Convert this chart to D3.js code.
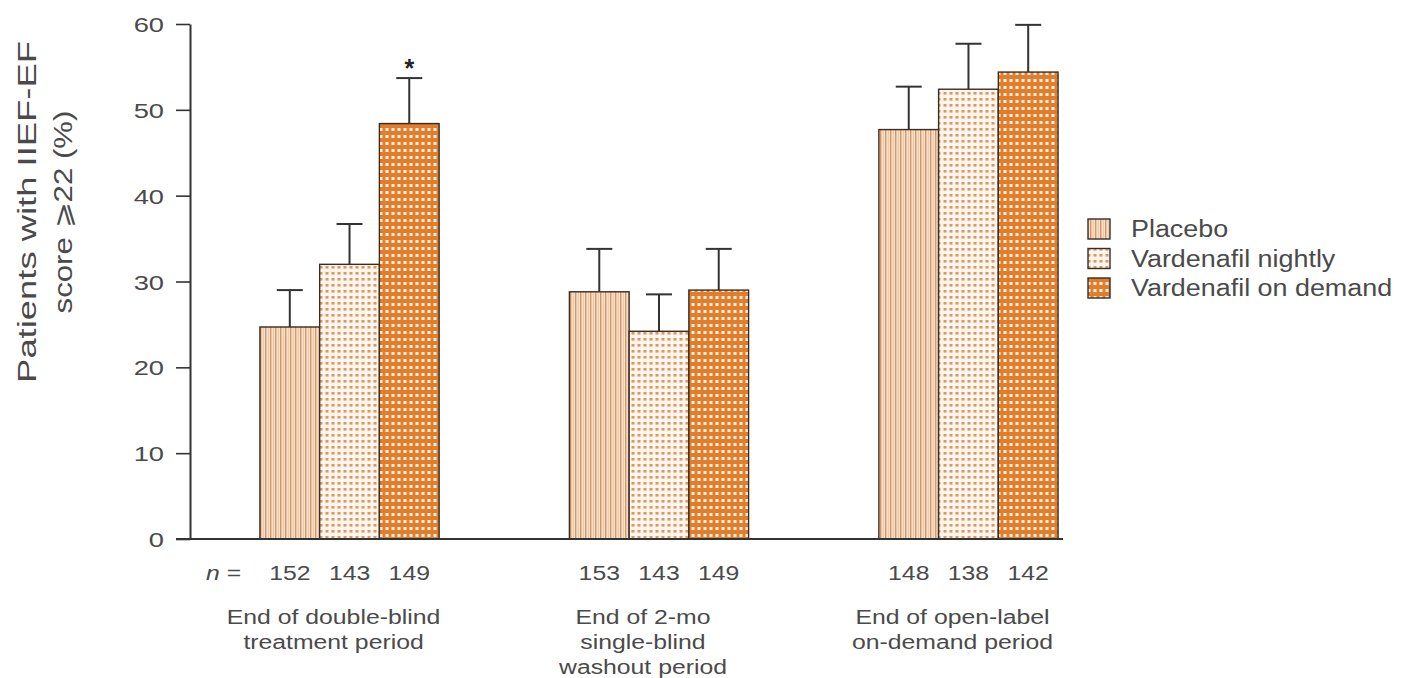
<!DOCTYPE html>
<html>
<head>
<meta charset="utf-8">
<script src="https://cdn.jsdelivr.net/npm/d3@7"></script>
<style>
  html, body { margin: 0; padding: 0; background: #ffffff; }
  svg { display: block; font-family: "Liberation Sans", Arial, Helvetica, sans-serif; }
</style>
</head>
<body>
<svg id="chart" width="1412" height="678"></svg>
<script>
// Study periods (x-axis groups), one label line per entry
const periods = ["double-blind", "washout", "open-label"];
const periodLabels = [
  ["End of double-blind", "treatment period"],
  ["End of 2-mo", "single-blind", "washout period"],
  ["End of open-label", "on-demand period"]
];

// Treatment arms
const series = ["Placebo", "Vardenafil nightly", "Vardenafil on demand"];

// % of patients with IIEF-EF score >= 22, per period
const placebo = [24.7, 28.8, 47.7];
const nightly = [32.0, 24.2, 52.4];
const onDemand = [48.4, 29.0, 54.4];

// Upper error bar lengths (percentage points)
const placeboErr = [4.3, 5.0, 5.0];
const nightlyErr = [4.7, 4.3, 5.3];
const onDemandErr = [5.3, 4.8, 5.5];

// Patients per arm, per period
const nPlacebo = [152, 153, 148];
const nNightly = [143, 143, 138];
const nOnDemand = [149, 149, 142];

// Significance markers for on-demand arm
const onDemandMark = ["*", "", ""];

const yTicks = [0, 10, 20, 30, 40, 50, 60];

const rows = [];
series.forEach((s, si) => {
  const vals = [placebo, nightly, onDemand][si];
  const errs = [placeboErr, nightlyErr, onDemandErr][si];
  const ns = [nPlacebo, nNightly, nOnDemand][si];
  periods.forEach((p, pi) => {
    rows.push({ series: s, si, period: p, value: vals[pi], err: errs[pi], n: ns[pi],
                mark: si === 2 ? onDemandMark[pi] : "" });
  });
});

const svg = d3.select("#chart");
const TEXT = "#4a4a4a";
const AXIS = "#333333";

// Fill patterns for the three arms
const defs = svg.append("defs");
const pPlacebo = defs.append("pattern").attr("id", "pat0")
  .attr("patternUnits", "userSpaceOnUse").attr("width", 5).attr("height", 10);
pPlacebo.append("rect").attr("width", 5).attr("height", 10).attr("fill", "#fbe3cd");
pPlacebo.append("rect").attr("x", 0).attr("width", 1.4).attr("height", 10).attr("fill", "#d0976a");
pPlacebo.append("rect").attr("x", 2.8).attr("width", 0.9).attr("height", 10).attr("fill", "#ebbf9b");

const pNightly = defs.append("pattern").attr("id", "pat1")
  .attr("patternUnits", "userSpaceOnUse").attr("width", 6).attr("height", 6);
pNightly.append("rect").attr("width", 6).attr("height", 6).attr("fill", "#fff5ec");
pNightly.append("rect").attr("x", 1.5).attr("y", 2).attr("width", 3).attr("height", 2.6).attr("fill", "#d99863");

const pDemand = defs.append("pattern").attr("id", "pat2")
  .attr("patternUnits", "userSpaceOnUse").attr("width", 6).attr("height", 7);
pDemand.append("rect").attr("width", 6).attr("height", 7).attr("fill", "#e07e2e");
pDemand.append("rect").attr("x", 1.5).attr("y", 2).attr("width", 3).attr("height", 3).attr("fill", "#fff1da");

const fills = ["url(#pat0)", "url(#pat1)", "url(#pat2)"];

// Scales
const x0 = d3.scaleBand().domain(periods).range([190, 1128])
  .paddingInner(0.421).paddingOuter(0.226);
const x1 = d3.scaleBand().domain(series).range([0, x0.bandwidth()]).padding(0);
const y = d3.scaleLinear().domain([0, 60]).range([539, 24]);

// Horizontally widened text helper
function wideText(parent, x, yy, str, size, sx, anchor) {
  const g = parent.append("g").attr("transform", `translate(${x},${yy}) scale(${sx},1)`);
  return g.append("text").attr("text-anchor", anchor || "middle")
    .attr("font-size", size).attr("fill", TEXT).text(str);
}

// Bars
const barG = svg.append("g");
barG.selectAll("rect.bar").data(rows).join("rect")
  .attr("class", "bar")
  .attr("x", d => x0(d.period) + x1(d.series))
  .attr("y", d => y(d.value))
  .attr("width", x1.bandwidth())
  .attr("height", d => y(0) - y(d.value))
  .attr("fill", d => fills[d.si])
  .attr("stroke", "#3a2c22").attr("stroke-width", 1.4);

// Error bars (upper)
const errG = svg.append("g").attr("stroke", AXIS).attr("stroke-width", 2);
rows.forEach(d => {
  const cx = x0(d.period) + x1(d.series) + x1.bandwidth() / 2;
  errG.append("line").attr("x1", cx).attr("x2", cx)
    .attr("y1", y(d.value)).attr("y2", y(d.value + d.err));
  errG.append("line").attr("x1", cx - 13).attr("x2", cx + 13)
    .attr("y1", y(d.value + d.err)).attr("y2", y(d.value + d.err));
  if (d.mark) {
    svg.append("text").attr("x", cx).attr("y", y(d.value + d.err) - 1)
      .attr("text-anchor", "middle").attr("font-size", 25).attr("font-weight", "bold")
      .attr("fill", "#222").text(d.mark);
  }
});

// Y axis
const yAxis = svg.append("g").attr("transform", "translate(190,0)")
  .call(d3.axisLeft(y).tickValues(yTicks).tickSize(14).tickSizeOuter(0).tickPadding(0));
yAxis.select(".domain").attr("stroke", AXIS).attr("stroke-width", 2);
yAxis.selectAll(".tick line").attr("stroke", AXIS).attr("stroke-width", 1.6);
yAxis.selectAll(".tick text").remove();
yAxis.selectAll(".tick").each(function (v) {
  wideText(d3.select(this), -26, 7.5, String(v), 21, 1.3, "end");
});

// Baseline
svg.append("line").attr("x1", 176).attr("x2", 1063)
  .attr("y1", y(0)).attr("y2", y(0))
  .attr("stroke", AXIS).attr("stroke-width", 2);

// n labels
const nG = svg.append("g");
const nLab = wideText(nG, 206, 580, "", 21, 1.18, "start");
nLab.append("tspan").attr("font-style", "italic").text("n");
nLab.append("tspan").text(" =");
rows.forEach(d => {
  const cx = x0(d.period) + x1(d.series) + x1.bandwidth() / 2;
  wideText(nG, cx, 580, String(d.n), 21, 1.18, "middle");
});

// Period labels
periods.forEach((p, pi) => {
  const cx = x0(p) + x0.bandwidth() / 2 - 16;
  periodLabels[pi].forEach((line, li) => {
    wideText(svg, cx, 624 + li * 25, line, 21, 1.18, "middle");
  });
});

// Y axis title
const yTitle = svg.append("g").attr("transform", "translate(0,212) rotate(-90)");
[["Patients with IIEF-EF", 36, 1.4], ["score \u2a7e22 (%)", 72, 1.2]].forEach(([t, off, sx]) => {
  yTitle.append("g").attr("transform", `translate(0,${off}) scale(${sx},1)`)
    .append("text").attr("text-anchor", "middle").attr("font-size", 26)
    .attr("fill", TEXT).text(t);
});

// Legend
const legend = svg.append("g");
series.forEach((s, si) => {
  const cy = 229 + si * 29.5;
  legend.append("rect").attr("x", 1088).attr("y", cy - 10).attr("width", 22).attr("height", 20)
    .attr("fill", fills[si]).attr("stroke", "#3a2c22").attr("stroke-width", 1.4);
  wideText(legend, 1131, cy + 8, s, 23, 1.17, "start");
});
</script>
</body>
</html>
